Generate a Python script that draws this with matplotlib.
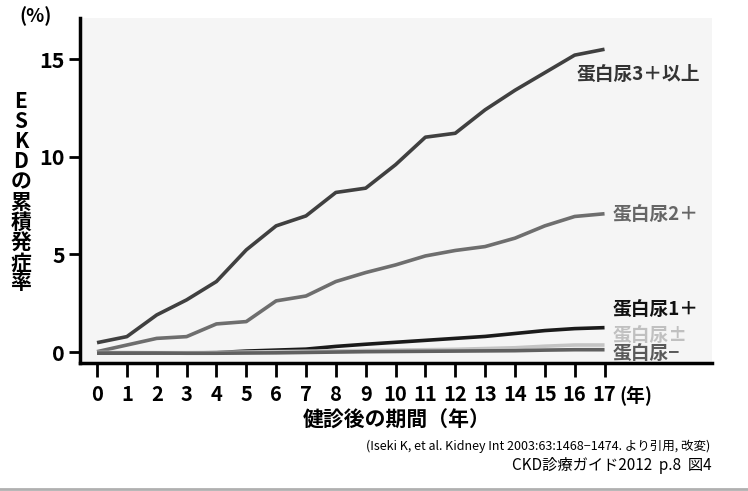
import matplotlib
matplotlib.use("Agg")
import matplotlib.pyplot as plt
from matplotlib.lines import Line2D

plt.rcParams['font.family'] = ['Noto Sans CJK JP', 'DejaVu Sans']

years = list(range(0, 18))
xtick_labels = [str(y) for y in years]
yticks = [0, 5, 10, 15]

p3 = [0.48, 0.79, 1.90, 2.67, 3.61, 5.23, 6.46, 6.97, 8.17, 8.39, 9.59, 11.0, 11.2, 12.4, 13.4, 14.3, 15.2, 15.5]
p2 = [0.02, 0.36, 0.70, 0.79, 1.44, 1.56, 2.62, 2.87, 3.61, 4.07, 4.46, 4.92, 5.20, 5.40, 5.83, 6.46, 6.94, 7.08]
p1 = [-0.05, -0.05, -0.05, -0.05, -0.03, 0.05, 0.10, 0.15, 0.29, 0.40, 0.50, 0.60, 0.70, 0.80, 0.95, 1.10, 1.20, 1.25]
ppm = [-0.02, -0.02, -0.03, -0.03, -0.02, 0.0, 0.02, 0.04, 0.06, 0.08, 0.10, 0.12, 0.14, 0.18, 0.22, 0.30, 0.36, 0.36]
pneg = [-0.05, -0.05, -0.05, -0.06, -0.06, -0.05, -0.04, -0.02, 0.0, 0.02, 0.03, 0.04, 0.05, 0.06, 0.07, 0.10, 0.12, 0.12]

series = [
    (p3, '#404040', '蛋白尿3＋以上', 14.2, 577, '#333333'),
    (p2, '#6e6e6e', '蛋白尿2＋', 7.05, 613, '#666666'),
    (p1, '#1a1a1a', '蛋白尿1＋', 2.2, 613, '#111111'),
    (ppm, '#c4c4c4', '蛋白尿±', 0.85, 613, '#c0c0c0'),
    (pneg, '#606060', '蛋白尿−', -0.05, 613, '#5a5a5a'),
]

fig = plt.figure(figsize=(7.48, 4.91), dpi=100)
ax = fig.add_axes([80/748, 1-363/491, (712-80)/748, (363-18)/491])
ax.set_facecolor('#f5f5f5')

for vals, col, lab, ly, lx, tcol in series:
    ax.plot(years, vals, color=col, lw=2.6, solid_capstyle='butt', zorder=3)

ax.set_xlim(-0.57, 20.6)
ax.set_ylim(-0.56, 17.1)

for s in ['top', 'right']:
    ax.spines[s].set_visible(False)
for s in ['left', 'bottom']:
    ax.spines[s].set_linewidth(2.5)
    ax.spines[s].set_color('black')

ax.set_xticks(years)
ax.set_xticklabels(xtick_labels, fontsize=14.5, fontweight='bold')
ax.set_yticks(yticks)
ax.set_yticklabels([str(v) for v in yticks], fontsize=15.5, fontweight='bold')
ax.tick_params(axis='x', length=10, width=2, pad=5, direction='out')
ax.tick_params(axis='y', length=8, width=2, pad=3, direction='out')

# series labels
for vals, col, lab, ly, lx, tcol in series:
    xd = (lx - 80) / 632 * (20.6 + 0.57) - 0.57
    ax.text(xd, ly, lab, fontsize=13.5, fontweight='bold', color=tcol,
            ha='left', va='center', zorder=4)

# (年) after ticks
fig.text(636/748, 1-396/491, '(年)', fontsize=13.5, fontweight='bold', ha='center', va='center')
# (%) at top
fig.text(36/748, 1-16/491, '(%)', fontsize=13.5, fontweight='bold', ha='center', va='center')
# y label stacked
ylab = 'ESKDの累積発症率'
fig.text(21/748, 1-192/491, '\n'.join(ylab), fontsize=15, fontweight='bold',
         ha='center', va='center', linespacing=0.95)
# x label
fig.text(397/748, 1-420/491, '健診後の期間（年）', fontsize=15, fontweight='bold', ha='center', va='center')
# citation
fig.text(710/748, 1-446/491, '(Iseki K, et al. Kidney Int 2003:63:1468−1474. より引用, 改変)',
         fontsize=9, ha='right', va='center')
fig.text(712/748, 1-466/491, 'CKD診療ガイド2012  p.8  図4',
         fontsize=11, ha='right', va='center')
# bottom separator line
fig.add_artist(Line2D([0, 1], [1-489/491, 1-489/491], color='#b0b0b0', lw=2, transform=fig.transFigure))

fig.savefig('out.png', dpi=100)
